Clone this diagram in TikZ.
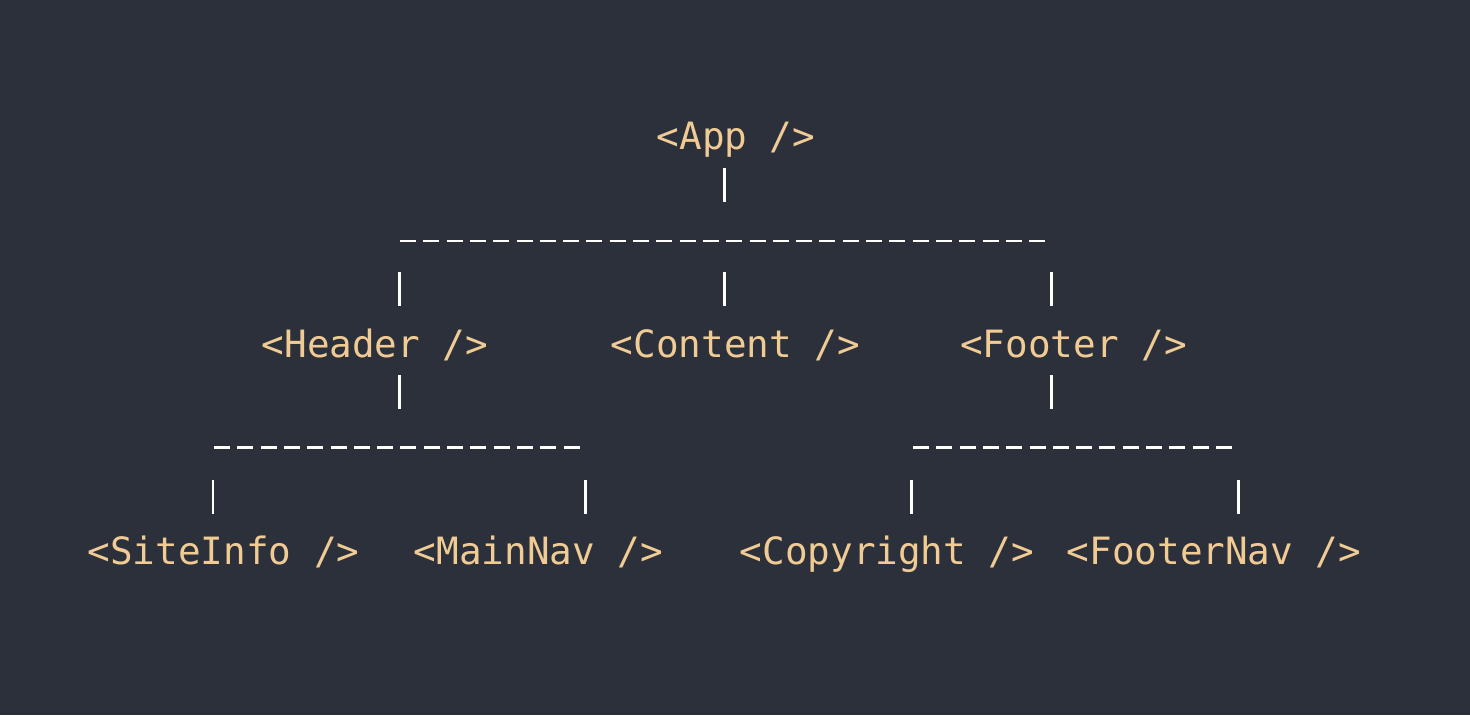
\documentclass[tikz,border=0pt]{standalone}
\usepackage{fontspec}
\newfontfamily\treefont{DejaVu Sans Mono}
\definecolor{bgslate}{RGB}{43,48,59}
\definecolor{tagtan}{RGB}{240,203,148}

\begin{document}
\begin{tikzpicture}[
	tag/.style={text=tagtan,font=\treefont\fontsize{10.7}{13}\selectfont,inner sep=0pt,anchor=base},
	pipe/.style={draw=white,line width=0.85pt},
	bar/.style={draw=white,line width=0.85pt,dash pattern=on 4.55pt off 2.08pt}]
\fill[bgslate] (0,0) rectangle (14.7,7.15);
\useasboundingbox (0,0) rectangle (14.7,7.15);

% components
\node[tag] (app) at (7.36,5.66) {<App />};
\node[tag] (header) at (3.75,3.58) {<Header />};
\node[tag] (content) at (7.355,3.58) {<Content />};
\node[tag] (footer) at (10.735,3.58) {<Footer />};
\node[tag] (siteinfo) at (2.235,1.51) {<SiteInfo />};
\node[tag] (mainnav) at (5.385,1.51) {<MainNav />};
\node[tag] (copyright) at (8.87,1.51) {<Copyright />};
\node[tag] (footernav) at (12.14,1.51) {<FooterNav />};

% bars
\coordinate (appbarL) at (4.00,4.74);
\coordinate (appbarR) at (10.45,4.74);
\coordinate (headerbarL) at (2.14,2.68);
\coordinate (headerbarR) at (5.795,2.68);
\coordinate (footerbarL) at (9.13,2.68);
\coordinate (footerbarR) at (12.32,2.68);
\draw[bar] (appbarL) -- (appbarR);
\draw[bar] (headerbarL) -- (headerbarR);
\draw[bar] (footerbarL) -- (footerbarR);

% pipes
\foreach \x/\y in {7.24/5.47, 3.99/4.43, 7.24/4.43, 10.51/4.43, 3.99/3.40, 10.51/3.40,
	2.13/2.35, 5.85/2.35, 9.11/2.35, 12.38/2.35}
	\draw[pipe] (\x,\y) -- ++(0,-0.34);
\end{tikzpicture}
\end{document}
